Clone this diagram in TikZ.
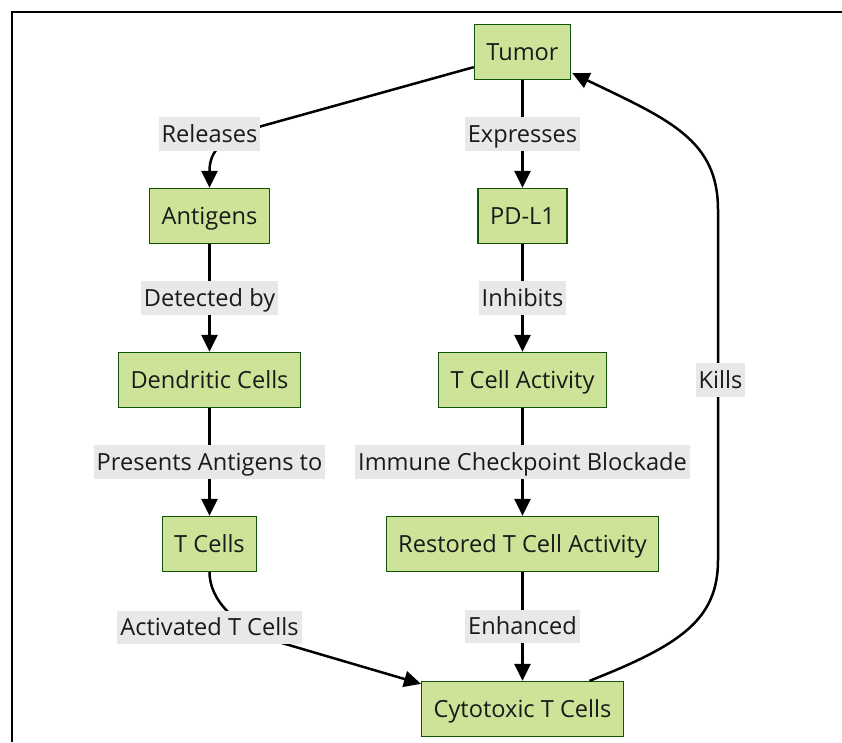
\documentclass[tikz,border=0pt]{standalone}
\usepackage{fontspec}
\setmainfont{Open Sans}
\usepackage{tikz}
\usetikzlibrary{calc}
\usetikzlibrary{arrows.meta}

\definecolor{boxfill}{HTML}{CDE498}
\definecolor{boxline}{HTML}{13540C}
\definecolor{lblfill}{HTML}{E8E8E8}
\definecolor{txt}{HTML}{1A1A1A}

\tikzset{
	stepbox/.style={draw=boxline, fill=boxfill, line width=1.3pt, minimum height=55pt, inner xsep=12pt, text height=21.5pt, text depth=5pt, text=txt, font=\fontsize{23.6}{28}\selectfont},
	lbl/.style={fill=lblfill, inner xsep=3pt, inner ysep=3.3pt, text height=21.5pt, text depth=5pt, text=txt, font=\fontsize{23.6}{28}\selectfont},
	flow/.style={line width=2.5pt, -{Triangle[length=17pt,width=16pt]}}
}

\begin{document}
\begin{tikzpicture}[x=1pt,y=-1pt]
			\useasboundingbox (0,0) rectangle (842,742);
			\draw[line width=2pt] (842,12) -| (12,742);

			\node[stepbox] (tumor) at (522.5,52) {Tumor};
			\node[stepbox] (antigens) at ($(tumor)+(-313,164)$) {Antigens};
			\node[stepbox] (pdl1) at ($(tumor)+(0,164)$) {PD-L1};
			\node[stepbox] (dendritic) at ($(antigens)+(0,164)$) {Dendritic Cells};
			\node[stepbox] (tactivity) at ($(pdl1)+(0,164)$) {T Cell Activity};
			\node[stepbox] (tcells) at ($(dendritic)+(0,164)$) {T Cells};
			\node[stepbox] (restored) at ($(tactivity)+(0,164)$) {Restored T Cell Activity};
			\node[stepbox] (cyto) at ($(restored)+(0,165)$) {Cytotoxic T Cells};

			% left column
			\draw[flow] ($(tumor.south west)+(0,-13)$) -- (262,126) .. controls (222,138) and (209.5,150) .. (antigens.north);
			\draw[flow] (antigens) -- node[lbl]{Detected by} (dendritic);
			\draw[flow] (dendritic) -- node[lbl]{Presents Antigens to} (tcells);
			\draw[flow] (tcells.south) .. controls (209.5,600) and (235,627) .. (282,643) -- ($(cyto.north west)+(0,3)$);

			% right column
			\draw[flow] (tumor) -- node[lbl]{Expresses} (pdl1);
			\draw[flow] (pdl1) -- node[lbl]{Inhibits} (tactivity);
			\draw[flow] (tactivity) -- node[lbl]{Immune Checkpoint Blockade} (restored);
			\draw[flow] (restored) -- node[lbl]{Enhanced} (cyto);

			% back to the tumor
			\draw[flow] ($(cyto.north)+(67,0)$) .. controls (680,645) and (718,620) .. (718,560) -- (718,210) .. controls (718,140) and (670,120) .. ($(tumor.south east)+(1,-7)$);

			\node[lbl] (rel) at ($(antigens)+(0,-82)$) {Releases};
			\node[lbl] (act) at ($(tcells)+(0,83.5)$) {Activated T Cells};
			\node[lbl] (kills) at ($(tactivity)+(198,0)$) {Kills};
\end{tikzpicture}
\end{document}
